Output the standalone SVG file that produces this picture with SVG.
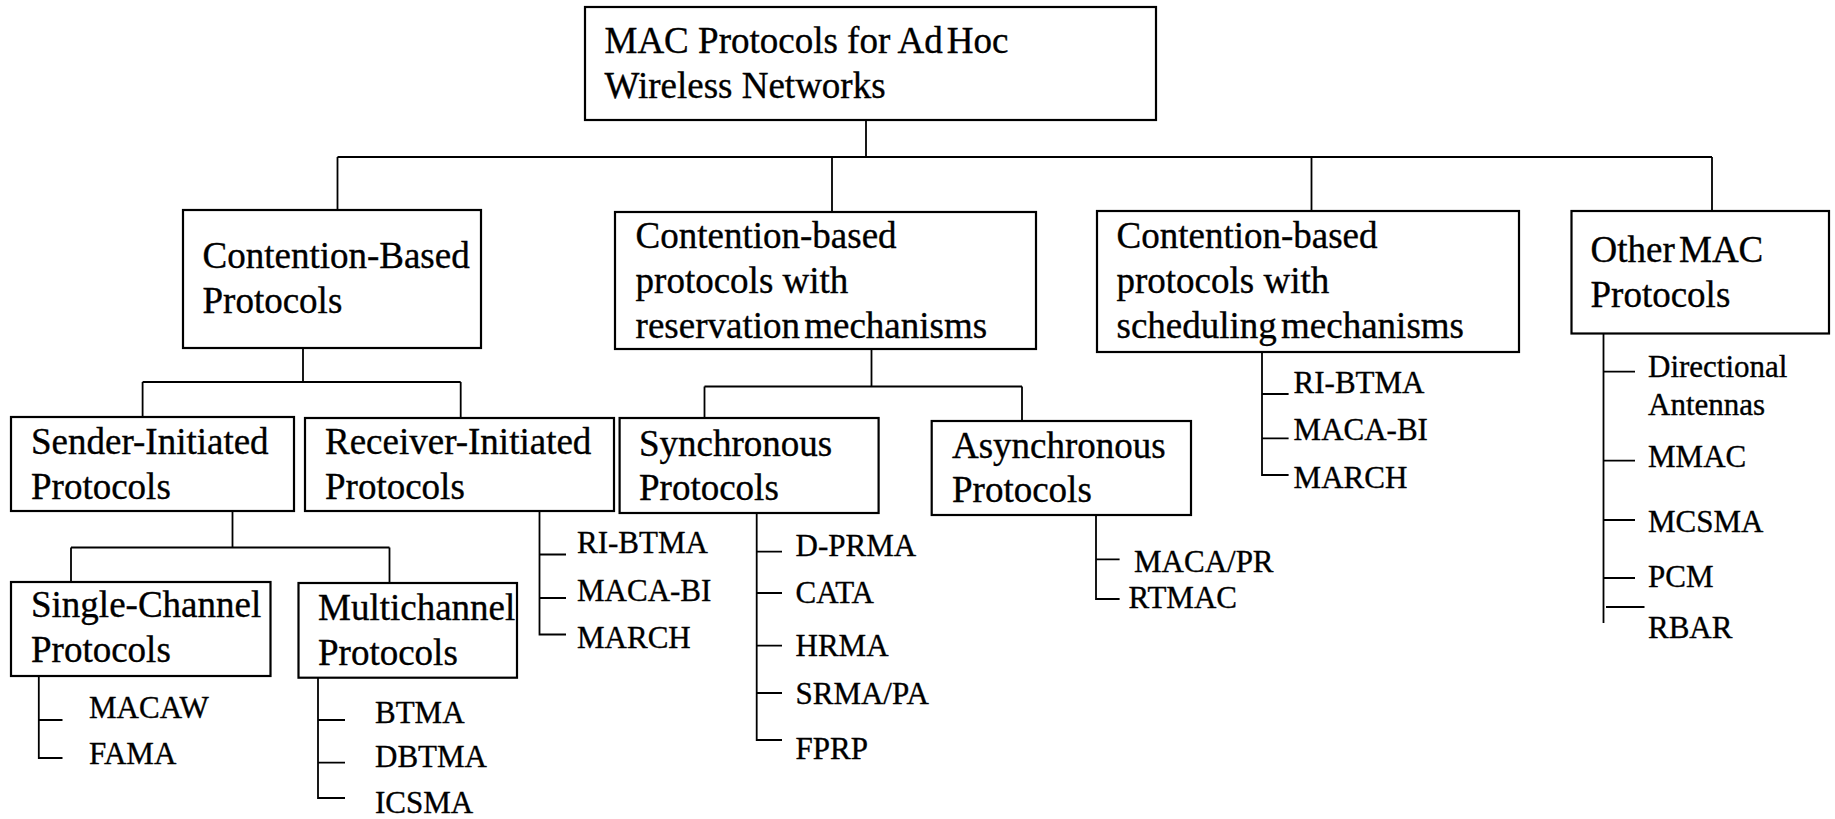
<svg xmlns="http://www.w3.org/2000/svg" width="1835" height="819" viewBox="0 0 1835 819">
  <style>
    .box { fill: #ffffff; stroke: #000000; stroke-width: 2.2; }
    .wire { fill: none; stroke: #000000; stroke-width: 1.8; }
    text { fill: #000000; stroke: #000000; stroke-width: 0.35; }
    .big { font-size: 37px; }
    .small { font-size: 31px; }
    .tight { word-spacing: -5px; }
  </style>
  <rect width="1835" height="819" fill="#ffffff"/>

  <!-- tree connectors -->
  <g id="connectors">
    <!-- root to the four families -->
    <path class="wire" d="M866 120 V157 M337.5 157 H1712 M337.5 157 V210 M832 157 V212 M1311.5 157 V211 M1712 157 V211"/>
    <!-- contention-based split -->
    <path class="wire" d="M303 348 V382 M142.6 382 H460.7 M142.6 382 V417 M460.7 382 V418"/>
    <!-- reservation split -->
    <path class="wire" d="M871.5 349 V386.5 M704.5 386.5 H1022 M704.5 386.5 V418 M1022 386.5 V421"/>
    <!-- sender-initiated split -->
    <path class="wire" d="M232.5 511 V547.5 M71 547.5 H389.5 M71 547.5 V582 M389.5 547.5 V583"/>
    <!-- leaf lists -->
    <path class="wire" d="M38.8 676 V758 H62.5 M38.8 720 H62.5"/>
    <path class="wire" d="M318 677.7 V798 H345 M318 720 H345 M318 762.7 H345"/>
    <path class="wire" d="M539.5 511 V634.5 H566 M539.5 554.5 H566 M539.5 598 H566"/>
    <path class="wire" d="M756.7 513 V740 H782 M756.7 551.7 H782 M756.7 593 H782 M756.7 645.7 H782 M756.7 693 H782"/>
    <path class="wire" d="M1096 515 V599 H1119.6 M1096 559.3 H1119.6"/>
    <path class="wire" d="M1262 352 V475 H1288.6 M1262 394 H1288.6 M1262 438.3 H1288.6"/>
    <path class="wire" d="M1603.5 333 V623 M1603.5 371.7 H1635 M1603.5 460.7 H1635 M1603.5 520 H1635 M1603.5 578 H1635 M1606 607 H1644.5"/>
  </g>

  <g font-family="'Liberation Serif', 'Times New Roman', serif">
  <g id="root">
    <rect class="box" x="585" y="7" width="571" height="113"/>
    <text class="big" x="604.5" y="53.3">MAC Protocols for Ad<tspan dx="4">Hoc</tspan></text>
    <text class="big" x="604.5" y="98.3">Wireless Networks</text>
  </g>

  <g id="contention-based">
    <rect class="box" x="183" y="210" width="298" height="138"/>
    <text class="big" x="202.5" y="268.3">Contention-Based</text>
    <text class="big" x="202.5" y="313.3">Protocols</text>
  </g>

  <g id="reservation">
    <rect class="box" x="615" y="212" width="421" height="137"/>
    <text class="big" x="635.6" y="248.3">Contention-based</text>
    <text class="big" x="635.6" y="293.3">protocols with</text>
    <text class="big tight" x="635.6" y="338.3">reservation mechanisms</text>
  </g>

  <g id="scheduling">
    <rect class="box" x="1097" y="211" width="422" height="141"/>
    <text class="big" x="1116.5" y="248">Contention-based</text>
    <text class="big" x="1116.5" y="293">protocols with</text>
    <text class="big tight" x="1116.5" y="338">scheduling mechanisms</text>
  </g>

  <g id="other">
    <rect class="box" x="1571.5" y="211" width="257.5" height="122.5"/>
    <text class="big tight" x="1590.5" y="261.7">Other MAC</text>
    <text class="big" x="1590.5" y="306.7">Protocols</text>
  </g>

  <g id="sender-initiated">
    <rect class="box" x="11" y="417" width="283" height="94"/>
    <text class="big" x="31" y="454">Sender-Initiated</text>
    <text class="big" x="31" y="499">Protocols</text>
  </g>

  <g id="receiver-initiated">
    <rect class="box" x="305" y="418" width="309" height="93"/>
    <text class="big" x="325" y="454">Receiver-Initiated</text>
    <text class="big" x="325" y="499">Protocols</text>
  </g>

  <g id="synchronous">
    <rect class="box" x="619.6" y="418" width="259" height="95"/>
    <text class="big" x="639" y="456">Synchronous</text>
    <text class="big" x="639" y="500">Protocols</text>
  </g>

  <g id="asynchronous">
    <rect class="box" x="931.7" y="421" width="259.3" height="94"/>
    <text class="big" x="952" y="458">Asynchronous</text>
    <text class="big" x="952" y="501.7">Protocols</text>
  </g>

  <g id="single-channel">
    <rect class="box" x="11" y="582" width="259.5" height="94"/>
    <text class="big" x="31" y="616.7">Single-Channel</text>
    <text class="big" x="31" y="661.7">Protocols</text>
  </g>

  <g id="multichannel">
    <rect class="box" x="298.5" y="583" width="218.5" height="94.7"/>
    <text class="big" x="318" y="620">Multichannel</text>
    <text class="big" x="318" y="665">Protocols</text>
  </g>

  <!-- leaf protocol names -->
  <g id="single-channel-list" class="small">
    <text x="89" y="718">MACAW</text>
    <text x="89" y="764">FAMA</text>
  </g>
  <g id="multichannel-list" class="small">
    <text x="375" y="722.7">BTMA</text>
    <text x="375" y="766.7">DBTMA</text>
    <text x="375" y="813">ICSMA</text>
  </g>
  <g id="receiver-list" class="small">
    <text x="577" y="552.7">RI-BTMA</text>
    <text x="577" y="600.7">MACA-BI</text>
    <text x="577" y="648">MARCH</text>
  </g>
  <g id="synchronous-list" class="small">
    <text x="795.5" y="555.7">D-PRMA</text>
    <text x="795.5" y="603">CATA</text>
    <text x="795.5" y="655.7">HRMA</text>
    <text x="795.5" y="704">SRMA/PA</text>
    <text x="795.5" y="759">FPRP</text>
  </g>
  <g id="asynchronous-list" class="small">
    <text x="1134" y="571.7">MACA/PR</text>
    <text x="1128.6" y="608">RTMAC</text>
  </g>
  <g id="scheduling-list" class="small">
    <text x="1293.6" y="392.7">RI-BTMA</text>
    <text x="1293.6" y="440">MACA-BI</text>
    <text x="1293.6" y="488">MARCH</text>
  </g>
  <g id="other-list" class="small">
    <text x="1648" y="376.7">Directional</text>
    <text x="1648" y="415">Antennas</text>
    <text x="1648" y="466.7">MMAC</text>
    <text x="1648" y="531.7">MCSMA</text>
    <text x="1648" y="586.7">PCM</text>
    <text x="1648" y="638">RBAR</text>
  </g>
  </g>
</svg>
